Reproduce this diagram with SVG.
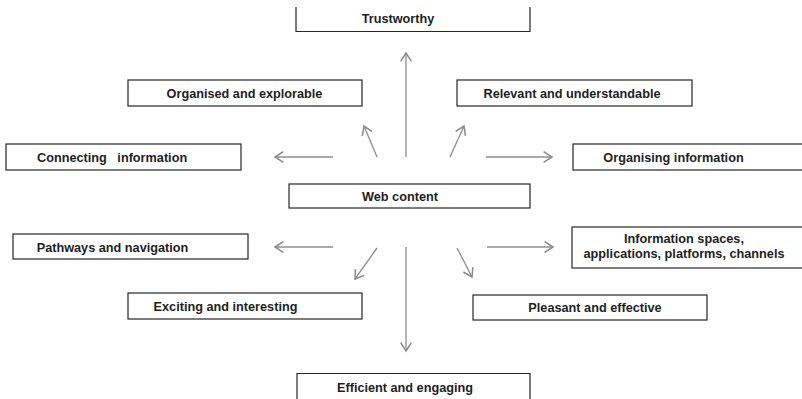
<svg xmlns="http://www.w3.org/2000/svg" width="802" height="399" viewBox="0 0 802 399">
<defs>
<style>
.box{fill:#fff;stroke:#262626;stroke-width:1.2}
.t{font-family:"Liberation Sans",Arial,sans-serif;font-weight:bold;font-size:12.7px;fill:#1e1e1e;text-anchor:middle}
.c{stroke:#8c8c8c;stroke-width:1.3;fill:none;marker-end:url(#ah)}
</style>
<marker id="ah" markerUnits="userSpaceOnUse" markerWidth="12" markerHeight="12" refX="8" refY="5" orient="auto" viewBox="0 0 10 10">
<path d="M1,0.5 L8,5 L1,9.5" fill="none" stroke="#8c8c8c" stroke-width="1.3"/>
</marker>
</defs>
<rect width="802" height="399" fill="#fff"/>
<g id="connectors">
<line class="c" x1="406" y1="157" x2="406" y2="53"/>
<line class="c" x1="377" y1="157" x2="364" y2="126"/>
<line class="c" x1="450" y1="157" x2="464" y2="126"/>
<line class="c" x1="333" y1="157" x2="275" y2="157"/>
<line class="c" x1="486" y1="157" x2="552" y2="157"/>
<line class="c" x1="333" y1="247" x2="275" y2="247"/>
<line class="c" x1="487" y1="247" x2="553" y2="247"/>
<line class="c" x1="377" y1="248" x2="355" y2="279"/>
<line class="c" x1="457" y1="248" x2="472" y2="277"/>
<line class="c" x1="406" y1="247" x2="406" y2="351"/>
</g>
<g id="trustworthy">
<path class="box" d="M296,7 V31.5 H530 V7"/>
<text class="t" x="398" y="23">Trustworthy</text>
</g>
<g id="organised">
<rect class="box" x="128" y="80" width="234" height="26"/>
<text class="t" x="244.5" y="97.5">Organised and explorable</text>
</g>
<g id="relevant">
<rect class="box" x="457" y="80" width="235" height="26"/>
<text class="t" x="572" y="97.5">Relevant and understandable</text>
</g>
<g id="connecting">
<rect class="box" x="6" y="144" width="235" height="26"/>
<text class="t" x="37" y="162" style="text-anchor:start" xml:space="preserve">Connecting   information</text>
</g>
<g id="organising">
<rect class="box" x="573" y="144" width="235" height="26"/>
<text class="t" x="673.5" y="162">Organising information</text>
</g>
<g id="web-content">
<rect class="box" x="289" y="184" width="241" height="24"/>
<text class="t" x="400" y="200.5">Web content</text>
</g>
<g id="pathways">
<rect class="box" x="13" y="234" width="235" height="25"/>
<text class="t" x="112.5" y="252">Pathways and navigation</text>
</g>
<g id="info-spaces">
<rect class="box" x="572" y="227" width="235" height="41"/>
<text class="t" x="684" y="243">Information spaces,</text>
<text class="t" x="684" y="258">applications, platforms, channels</text>
</g>
<g id="exciting">
<rect class="box" x="128" y="293" width="234" height="26"/>
<text class="t" x="225.5" y="311">Exciting and interesting</text>
</g>
<g id="pleasant">
<rect class="box" x="473" y="295" width="234" height="25"/>
<text class="t" x="595" y="312">Pleasant and effective</text>
</g>
<g id="efficient">
<path class="box" d="M297,402 V373.5 H530 V402"/>
<text class="t" x="405" y="392">Efficient and engaging</text>
</g>
</svg>
